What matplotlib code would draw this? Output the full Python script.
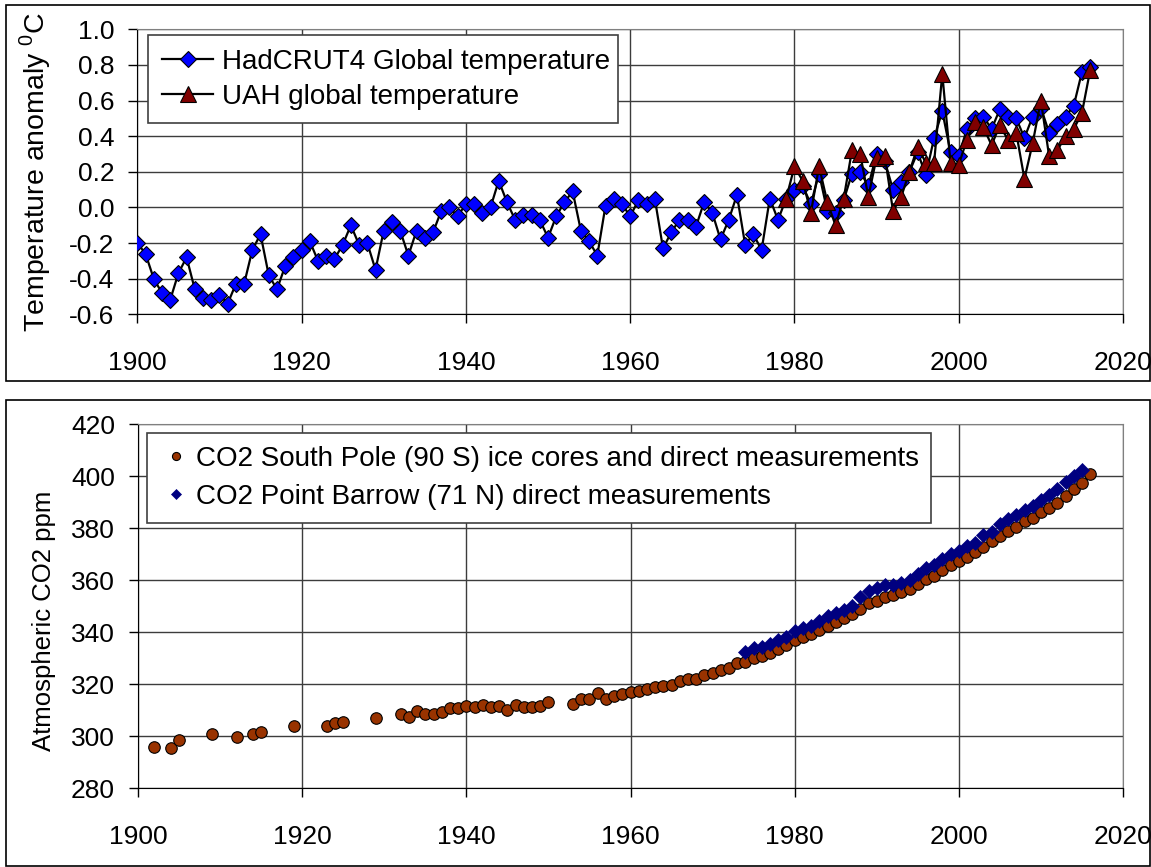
import matplotlib
matplotlib.use("Agg")  # headless
import matplotlib.pyplot as plt
import numpy as np
from matplotlib.patches import Rectangle

plt.rcParams["font.family"] = ["Liberation Sans", "DejaVu Sans"]

# --- Temperature anomalies (deg C) ---
had_years = list(range(1900, 2017))
had_anom = [
    -0.20, -0.26, -0.40, -0.48, -0.52, -0.37, -0.28, -0.46, -0.51, -0.52,  # 1900s
    -0.49, -0.54, -0.43, -0.43, -0.24, -0.15, -0.38, -0.46, -0.33, -0.28,  # 1910s
    -0.24, -0.19, -0.30, -0.27, -0.29, -0.21, -0.10, -0.21, -0.20, -0.35,  # 1920s
    -0.13, -0.08, -0.13, -0.27, -0.13, -0.17, -0.14, -0.02, 0.00, -0.05,   # 1930s
    0.02, 0.02, -0.03, 0.00, 0.15, 0.03, -0.07, -0.04, -0.04, -0.07,       # 1940s
    -0.17, -0.05, 0.03, 0.09, -0.13, -0.19, -0.27, 0.01, 0.05, 0.02,       # 1950s
    -0.05, 0.04, 0.02, 0.05, -0.23, -0.14, -0.07, -0.07, -0.11, 0.03,      # 1960s
    -0.03, -0.18, -0.07, 0.07, -0.21, -0.15, -0.24, 0.05, -0.07, 0.05,     # 1970s
    0.10, 0.12, 0.02, 0.19, -0.02, -0.03, 0.04, 0.19, 0.20, 0.12,          # 1980s
    0.30, 0.26, 0.10, 0.14, 0.20, 0.31, 0.18, 0.39, 0.54, 0.31,            # 1990s
    0.29, 0.44, 0.50, 0.51, 0.44, 0.55, 0.51, 0.50, 0.39, 0.51,            # 2000s
    0.56, 0.42, 0.47, 0.51, 0.57, 0.76, 0.79,                              # 2010s
]

uah_years = list(range(1979, 2017))
uah_anom = [
    0.05, 0.23, 0.15, -0.03, 0.23, 0.03, -0.10, 0.05, 0.32, 0.30,          # 1979-1988
    0.06, 0.28, 0.29, -0.02, 0.06, 0.20, 0.34, 0.25, 0.25, 0.75,           # 1989-1998
    0.25, 0.24, 0.38, 0.48, 0.45, 0.35, 0.46, 0.38, 0.42, 0.16,            # 1999-2008
    0.36, 0.60, 0.29, 0.32, 0.40, 0.44, 0.53, 0.77,                        # 2009-2016
]

# --- Atmospheric CO2 (ppm) ---
sp_years = [
    1902, 1904, 1905, 1909, 1912, 1914, 1915, 1919, 1923, 1924, 1925, 1929,
    1932, 1933, 1934, 1935, 1936, 1937, 1938, 1939, 1940, 1941, 1942, 1943,
    1944, 1945, 1946, 1947, 1948, 1949, 1950, 1953, 1954, 1955, 1956, 1957,
    1958, 1959, 1960, 1961, 1962, 1963, 1964, 1965, 1966, 1967, 1968, 1969,
    1970, 1971, 1972, 1973, 1974, 1975, 1976, 1977, 1978, 1979, 1980, 1981,
    1982, 1983, 1984, 1985, 1986, 1987, 1988, 1989, 1990, 1991, 1992, 1993,
    1994, 1995, 1996, 1997, 1998, 1999, 2000, 2001, 2002, 2003, 2004, 2005,
    2006, 2007, 2008, 2009, 2010, 2011, 2012, 2013, 2014, 2015, 2016,
]
sp_co2 = [
    295.9, 295.4, 298.5, 300.6, 299.7, 300.6, 301.5, 303.7, 303.7, 305.0, 305.5, 306.8,
    308.5, 307.5, 309.8, 308.4, 308.4, 309.3, 310.6, 310.6, 311.5, 311.1, 312.0, 311.0,
    311.7, 310.0, 312.0, 311.0, 311.1, 311.7, 313.2, 312.2, 314.1, 314.1, 316.6, 314.4,
    315.3, 316.1, 317.0, 317.5, 318.0, 318.9, 319.4, 319.7, 321.3, 321.9, 322.0, 323.6,
    324.4, 325.5, 326.3, 328.0, 328.5, 329.9, 330.8, 331.9, 333.5, 335.1, 336.8, 338.0,
    339.4, 340.9, 342.3, 343.7, 345.2, 347.0, 348.9, 351.1, 352.1, 353.5, 354.3, 355.2,
    356.7, 358.5, 360.5, 361.4, 363.8, 365.9, 367.2, 368.7, 370.6, 372.7, 374.9, 376.8,
    378.8, 380.4, 382.8, 384.0, 386.0, 387.8, 389.8, 392.5, 395.0, 397.4, 400.8,
]

brw_years = list(range(1974, 2016))
brw_co2 = [
    332.5, 333.8, 334.4, 335.4, 336.8, 338.1, 340.4, 341.5, 342.5, 344.2,
    346.3, 347.2, 348.6, 350.0, 353.3, 355.7, 357.0, 358.1, 358.2, 359.0,
    360.0, 362.5, 364.8, 365.9, 368.2, 370.1, 371.2, 373.0, 374.1, 377.4,
    378.3, 381.4, 383.5, 385.0, 387.1, 388.6, 390.8, 392.7, 395.0, 397.7,
    400.1, 402.2,
]

W, H = 1151, 867
fig = plt.figure(figsize=(W / 100, H / 100), dpi=100)


def px_axes(left, top, right, bottom):
    return fig.add_axes([left / W, 1 - bottom / H, (right - left) / W, (bottom - top) / H])


def px_frame(left, top, right, bottom):
    fig.patches.append(Rectangle((left / W, 1 - bottom / H), (right - left) / W,
                                 (bottom - top) / H, transform=fig.transFigure,
                                 fill=False, ec="black", lw=1.2, zorder=0))


def style_axes(ax):
    ax.grid(True, color="#3c3c3c", lw=1.0)
    ax.set_axisbelow(True)
    for side in ("top", "right"):
        ax.spines[side].set_color("#808080")
    for side in ("left", "bottom"):
        ax.spines[side].set_color("black")
    ax.tick_params(axis="both", direction="out", length=6.5, width=1.0,
                   labelsize=19, color="black")
    ax.tick_params(axis="x", pad=20)
    ax.tick_params(axis="y", pad=10)
    ax.set_xlim(1900, 2020)
    ax.set_xticks(np.arange(1900, 2021, 20))


px_frame(6, 5, 1150, 381)
px_frame(6, 400, 1150, 866)

# --- Top panel: temperature ---
ax1 = px_axes(137.3, 29.3, 1123, 314.3)
style_axes(ax1)
ax1.plot(had_years, had_anom, color="black", lw=1.6, marker="D", ms=8,
         mfc="#0000FF", mec="black", mew=0.8, label="HadCRUT4 Global temperature", zorder=3)
ax1.plot(uah_years, uah_anom, color="black", lw=1.6, marker="^", ms=12,
         mfc="#800000", mec="black", mew=0.8, label="UAH global temperature", zorder=4)
ax1.set_ylim(-0.6, 1.0)
ax1.set_yticks(np.arange(-0.6, 1.01, 0.2))
ax1.yaxis.set_major_formatter(matplotlib.ticker.FormatStrFormatter("%.1f"))
ax1.set_ylabel(r"Temperature anomaly $^{\mathregular{0}}$C", fontsize=20.5)
ax1.yaxis.set_label_coords(-0.0855, 0.5)
leg1 = ax1.legend(loc="upper left", bbox_to_anchor=(0.0109, 0.979, 0.477, 0.0),
                  mode="expand", fontsize=20, fancybox=False, edgecolor="#404040",
                  framealpha=1, borderaxespad=0, handlelength=1.85, handletextpad=0.3,
                  borderpad=0.5, labelspacing=0.3)
leg1.get_frame().set_linewidth(1.2)

# --- Bottom panel: CO2 ---
ax2 = px_axes(138, 424, 1123, 788)
style_axes(ax2)
ax2.plot(sp_years, sp_co2, ls="none", marker="o", ms=8.3, mfc="#993300",
         mec="black", mew=0.8, label="CO2 South Pole (90 S) ice cores and direct measurements",
         zorder=3)
ax2.plot(brw_years, brw_co2, ls="none", marker="D", ms=7, mfc="#000080",
         mec="#000080", mew=0.5, label="CO2 Point Barrow (71 N) direct measurements",
         zorder=4)
ax2.set_ylim(280, 420)
ax2.set_yticks(np.arange(280, 421, 20))
ax2.set_ylabel("Atmospheric CO2 ppm", fontsize=18.5)
ax2.yaxis.set_label_coords(-0.083, 0.46)
leg2 = ax2.legend(loc="upper left", bbox_to_anchor=(0.0091, 0.975, 0.796, 0.0),
                  mode="expand", fontsize=20, fancybox=False, edgecolor="#404040",
                  framealpha=1, borderaxespad=0, handlelength=1.2, handletextpad=0.1,
                  borderpad=0.45, labelspacing=0.45, markerscale=0.7, numpoints=1)
leg2.get_frame().set_linewidth(1.2)

fig.savefig("out.png", dpi=100)
